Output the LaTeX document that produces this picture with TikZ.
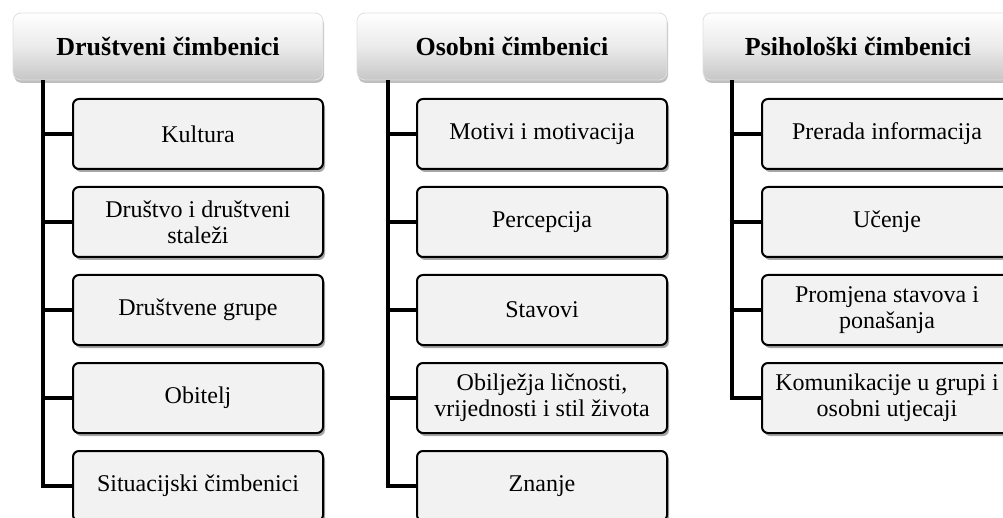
\documentclass[tikz,border=0pt]{standalone}
\usepackage{fontspec}
\setmainfont{Liberation Serif}
\usetikzlibrary{shadows}
\definecolor{boxfill}{HTML}{F2F2F2}
\tikzset{
  hdr/.style={rounded corners=8pt, minimum width=310pt, minimum height=67pt,
    top color=white, bottom color=black!22, middle color=black!8, draw=black!12, line width=0.8pt,
    drop shadow={shadow xshift=1pt, shadow yshift=-3pt, opacity=0.25, fill=black},
    font=\fontsize{26pt}{30pt}\selectfont\bfseries, inner sep=0pt},
  item/.style={rounded corners=6pt, minimum width=250pt, minimum height=70pt,
    fill=boxfill, draw=black, line width=2pt, align=center, inner sep=0pt,
    drop shadow={shadow xshift=2pt, shadow yshift=-3pt, opacity=0.35, fill=black},
    font=\fontsize{24pt}{26pt}\selectfont},
  conn/.style={line width=4pt, black}
}
\begin{document}
\begin{tikzpicture}[x=1pt, y=-1pt]
\useasboundingbox (0,0) rectangle (1003,518);
\clip (0,0) rectangle (1003,518);
\fill[white] (0,0) rectangle (1003,518);
% column 1
\node[hdr] (h1) at (168,46.5) {Društveni čimbenici};
\coordinate (t1) at (43,80);
\node[item] (a1) at (198,134) {Kultura};
\node[item] (a2) at (198,222) {Društvo i društveni\\staleži};
\node[item] (a3) at (198,310) {Društvene grupe};
\node[item] (a4) at (198,398) {Obitelj};
\node[item] (a5) at (198,486) {Situacijski čimbenici};
\draw[conn] (t1) |- (a5.west);
\foreach \n in {a1,a2,a3,a4} \draw[conn] (t1 |- \n.west) -- (\n.west);
% column 2
\node[hdr] (h2) at (512,46.5) {Osobni čimbenici};
\coordinate (t2) at (388,80);
\node[item] (b1) at (542,134) {Motivi i motivacija};
\node[item] (b2) at (542,222) {Percepcija};
\node[item] (b3) at (542,310) {Stavovi};
\node[item] (b4) at (542,398) {Obilježja ličnosti,\\vrijednosti i stil života};
\node[item] (b5) at (542,486) {Znanje};
\draw[conn] (t2) |- (b5.west);
\foreach \n in {b1,b2,b3,b4} \draw[conn] (t2 |- \n.west) -- (\n.west);
% column 3
\node[hdr] (h3) at (858,46.5) {Psihološki čimbenici};
\coordinate (t3) at (732,80);
\node[item] (c1) at (887,134) {Prerada informacija};
\node[item] (c2) at (887,222) {Učenje};
\node[item] (c3) at (887,310) {Promjena stavova i\\ponašanja};
\node[item] (c4) at (887,398) {Komunikacije u grupi i\\osobni utjecaji};
\draw[conn] (t3) |- (c4.west);
\foreach \n in {c1,c2,c3} \draw[conn] (t3 |- \n.west) -- (\n.west);
\end{tikzpicture}
\end{document}
